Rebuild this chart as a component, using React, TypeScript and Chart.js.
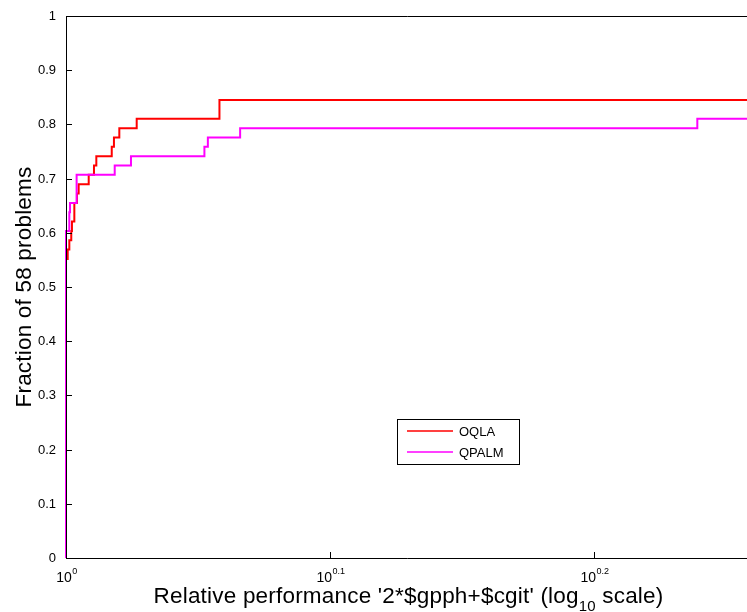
import React, { useEffect, useRef } from "react";
import { Chart, registerables } from "chart.js";

Chart.register(...registerables);

const nProblems = 58;
const seriesNames = ["OQLA", "QPALM"];
const seriesColors = ["#ff0000", "#ff00ff"];

// performance ratio tau (x) and number of problems solved within tau (y = count / 58)
const oqlaTau = [1, 1, 1.0015, 1.0029, 1.0046, 1.0052, 1.0073, 1.0096, 1.0111, 1.02, 1.0247, 1.0268, 1.0407, 1.0427, 1.0476, 1.0636, 1.1432, 1.8111];
const oqlaSolved = [0, 32, 33, 34, 35, 36, 38, 39, 40, 41, 42, 43, 44, 45, 46, 47, 49, 49];

const qpalmTau = [1, 1, 1.0029, 1.0035, 1.0093, 1.0434, 1.0583, 1.1283, 1.1317, 1.164, 1.7343, 1.8111];
const qpalmSolved = [0, 35, 37, 38, 41, 42, 43, 44, 45, 46, 47, 47];

const yTicks = [0, 0.1, 0.2, 0.3, 0.4, 0.5, 0.6, 0.7, 0.8, 0.9, 1];
const yTickLabels = ["0", "0.1", "0.2", "0.3", "0.4", "0.5", "0.6", "0.7", "0.8", "0.9", "1"];
const xTickExps = [0, 0.1, 0.2];
const xTickExpLabels = ["0", "0.1", "0.2"];
const xMin = 1;
const xMax = 1.8111;

const xTitleMain = "Relative performance '2*$gpph+$cgit' (log";
const xTitleSub = "10";
const xTitleEnd = " scale)";
const yTitle = "Fraction of 58 problems";

const FONT = "'Liberation Sans', Arial, Helvetica, sans-serif";

const toPoints = (tau: number[], solved: number[]) =>
  tau.map((t, i) => ({ x: t, y: solved[i] / nProblems }));

const decorPlugin = {
  id: "matlabDecor",
  afterDatasetsDraw(chart: any) {
    const { ctx, chartArea } = chart;
    const xs = chart.scales.x;
    const ys = chart.scales.y;
    const L = chartArea.left;
    const T = chartArea.top;
    const B = chartArea.bottom;
    const R = chartArea.right;
    ctx.save();
    ctx.strokeStyle = "#000";
    ctx.lineWidth = 1;
    // axes box
    ctx.beginPath();
    ctx.moveTo(L + 0.5, T + 0.5);
    ctx.lineTo(L + 0.5, B + 0.5);
    ctx.lineTo(R + 2, B + 0.5);
    ctx.moveTo(L + 0.5, T + 0.5);
    ctx.lineTo(R + 2, T + 0.5);
    ctx.stroke();

    // y ticks & labels
    ctx.fillStyle = "#000";
    ctx.font = `13px ${FONT}`;
    ctx.textAlign = "right";
    ctx.textBaseline = "middle";
    yTicks.forEach((v, i) => {
      const y = Math.round(ys.getPixelForValue(v)) + 0.5;
      ctx.beginPath();
      ctx.moveTo(L, y);
      ctx.lineTo(L + 6, y);
      ctx.stroke();
      ctx.fillText(yTickLabels[i], L - 10, y);
    });

    // x ticks & labels
    xTickExps.forEach((e, i) => {
      const x = Math.round(xs.getPixelForValue(Math.pow(10, e))) + 0.5;
      ctx.beginPath();
      ctx.moveTo(x, B);
      ctx.lineTo(x, B - 6);
      ctx.stroke();
      ctx.textAlign = "left";
      ctx.textBaseline = "alphabetic";
      ctx.font = `14px ${FONT}`;
      const w10 = ctx.measureText("10").width;
      ctx.font = `9px ${FONT}`;
      const wE = ctx.measureText(xTickExpLabels[i]).width;
      const start = x - (w10 + wE) / 2;
      ctx.font = `14px ${FONT}`;
      ctx.fillText("10", start, 582);
      ctx.font = `9px ${FONT}`;
      ctx.fillText(xTickExpLabels[i], start + w10 + 0.5, 574);
    });

    // x title
    (ctx as any).letterSpacing = "0.2px";
    ctx.font = `22.5px ${FONT}`;
    const w1 = ctx.measureText(xTitleMain).width;
    const w3 = ctx.measureText(xTitleEnd).width;
    ctx.font = `15px ${FONT}`;
    const w2 = ctx.measureText(xTitleSub).width;
    const cx = (L + R) / 2 + 2;
    const sx = cx - (w1 + w2 + w3) / 2;
    ctx.textAlign = "left";
    ctx.font = `22.5px ${FONT}`;
    ctx.fillText(xTitleMain, sx, 603);
    ctx.font = `15px ${FONT}`;
    ctx.fillText(xTitleSub, sx + w1, 611);
    ctx.font = `22.5px ${FONT}`;
    ctx.fillText(xTitleEnd, sx + w1 + w2, 603);

    // y title
    ctx.save();
    ctx.translate(31, (T + B) / 2);
    ctx.rotate(-Math.PI / 2);
    ctx.textAlign = "center";
    ctx.textBaseline = "alphabetic";
    ctx.fillText(yTitle, 0, 0);
    ctx.restore();
    (ctx as any).letterSpacing = "0px";

    // legend
    ctx.fillStyle = "#fff";
    ctx.fillRect(397.5, 419.5, 122, 45);
    ctx.strokeStyle = "#000";
    ctx.lineWidth = 1;
    ctx.strokeRect(397.5, 419.5, 122, 45);
    ctx.font = `13px ${FONT}`;
    ctx.textAlign = "left";
    ctx.textBaseline = "middle";
    seriesNames.forEach((name, i) => {
      const y = 431 + i * 21;
      ctx.strokeStyle = seriesColors[i];
      ctx.lineWidth = 1.5;
      ctx.beginPath();
      ctx.moveTo(407, y);
      ctx.lineTo(453, y);
      ctx.stroke();
      ctx.fillStyle = "#000";
      ctx.fillText(name, 459, y + 1);
    });
    ctx.restore();
  },
};

export default function App() {
  const canvasRef = useRef<HTMLCanvasElement | null>(null);

  useEffect(() => {
    const canvas = canvasRef.current;
    if (!canvas) return;
    const chart = new Chart(canvas, {
      type: "line",
      data: {
        datasets: [
          {
            label: seriesNames[0],
            data: toPoints(oqlaTau, oqlaSolved),
            borderColor: seriesColors[0],
            backgroundColor: seriesColors[0],
            borderWidth: 2,
            pointRadius: 0,
            stepped: true,
            fill: false,
            order: 2,
            clip: 3,
          },
          {
            label: seriesNames[1],
            data: toPoints(qpalmTau, qpalmSolved),
            borderColor: seriesColors[1],
            backgroundColor: seriesColors[1],
            borderWidth: 2,
            pointRadius: 0,
            stepped: true,
            fill: false,
            order: 1,
            clip: 3,
          },
        ],
      },
      options: {
        animation: false,
        responsive: false,
        devicePixelRatio: 1,
        parsing: false as any,
        layout: { padding: { left: 0, top: 16, right: 0, bottom: 0 } },
        plugins: { legend: { display: false }, tooltip: { enabled: false } },
        scales: {
          x: {
            type: "logarithmic",
            min: xMin,
            max: xMax,
            ticks: { display: false },
            grid: { display: false },
            border: { display: false },
            afterFit: (s: any) => {
              s.height = 54;
            },
          },
          y: {
            type: "linear",
            min: 0,
            max: 1,
            ticks: { display: false },
            grid: { display: false },
            border: { display: false },
            afterFit: (s: any) => {
              s.width = 66;
            },
          },
        },
      },
      plugins: [decorPlugin],
    });
    return () => chart.destroy();
  }, []);

  return (
    <div style={{ position: "absolute", left: 0, top: 0, width: 747, height: 612, background: "#fff" }}>
      <canvas ref={canvasRef} width={747} height={612} style={{ display: "block" }} />
    </div>
  );
}
